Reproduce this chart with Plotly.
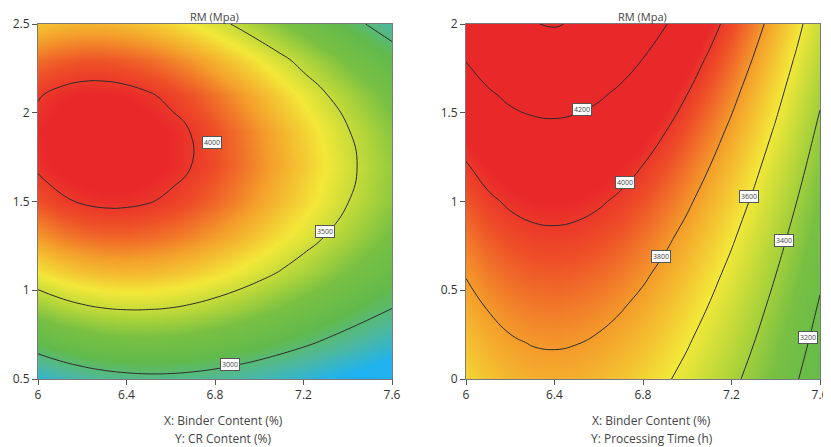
import plotly.graph_objects as go

# ---- data ----
binder = [6.0, 6.1, 6.2, 6.3, 6.4, 6.5, 6.6, 6.7, 6.8, 6.9, 7.0, 7.1, 7.2, 7.3, 7.4, 7.5, 7.6]
cr_content = [0.5, 0.7, 0.9, 1.1, 1.3, 1.5, 1.7, 1.9, 2.1, 2.3, 2.5]
proc_time = [0.0, 0.2, 0.4, 0.6, 0.8, 1.0, 1.2, 1.4, 1.6, 1.8, 2.0]

rm_cr = [
    [2769, 2837, 2889, 2925, 2947, 2957, 2955, 2942, 2921, 2891, 2855, 2813, 2767, 2718, 2667, 2615, 2564],
    [3094, 3157, 3203, 3234, 3250, 3254, 3247, 3229, 3202, 3167, 3125, 3077, 3026, 2971, 2915, 2858, 2801],
    [3377, 3435, 3476, 3501, 3513, 3511, 3499, 3476, 3443, 3403, 3356, 3304, 3247, 3188, 3126, 3064, 3003],
    [3615, 3667, 3703, 3724, 3731, 3725, 3707, 3679, 3642, 3597, 3546, 3489, 3428, 3363, 3297, 3231, 3165],
    [3803, 3851, 3882, 3899, 3901, 3891, 3869, 3836, 3795, 3746, 3690, 3629, 3563, 3495, 3424, 3354, 3283],
    [3938, 3982, 4009, 4022, 4020, 4006, 3980, 3943, 3898, 3845, 3785, 3720, 3651, 3578, 3504, 3430, 3355],
    [4017, 4057, 4081, 4089, 4084, 4066, 4037, 3997, 3948, 3892, 3828, 3760, 3687, 3611, 3533, 3455, 3378],
    [4036, 4073, 4093, 4099, 4090, 4069, 4036, 3993, 3941, 3882, 3815, 3743, 3667, 3588, 3508, 3427, 3346],
    [3992, 4026, 4044, 4046, 4035, 4011, 3975, 3929, 3875, 3812, 3743, 3668, 3590, 3508, 3425, 3341, 3258],
    [3881, 3913, 3928, 3928, 3914, 3887, 3849, 3801, 3744, 3679, 3608, 3531, 3450, 3366, 3280, 3194, 3108],
    [3700, 3729, 3742, 3740, 3724, 3696, 3656, 3606, 3547, 3480, 3406, 3327, 3244, 3158, 3071, 2983, 2895],
]
rm_time = [
    [3656, 3703, 3735, 3753, 3757, 3750, 3731, 3702, 3663, 3616, 3561, 3499, 3431, 3359, 3282, 3203, 3121],
    [3704, 3752, 3786, 3804, 3809, 3802, 3783, 3753, 3714, 3665, 3609, 3545, 3476, 3401, 3321, 3239, 3154],
    [3755, 3805, 3839, 3858, 3864, 3856, 3837, 3807, 3766, 3716, 3658, 3593, 3521, 3444, 3362, 3276, 3187],
    [3809, 3860, 3895, 3915, 3921, 3913, 3893, 3862, 3821, 3769, 3710, 3642, 3568, 3488, 3403, 3314, 3222],
    [3867, 3918, 3954, 3974, 3980, 3972, 3952, 3920, 3877, 3825, 3763, 3694, 3617, 3534, 3446, 3354, 3258],
    [3927, 3980, 4016, 4037, 4042, 4034, 4013, 3980, 3936, 3882, 3819, 3747, 3668, 3582, 3491, 3395, 3296],
    [3991, 4045, 4081, 4102, 4107, 4099, 4077, 4043, 3998, 3942, 3876, 3802, 3720, 3632, 3537, 3438, 3335],
    [4059, 4113, 4150, 4170, 4176, 4167, 4144, 4109, 4062, 4004, 3936, 3860, 3775, 3684, 3586, 3483, 3375],
    [4130, 4184, 4222, 4242, 4247, 4237, 4214, 4177, 4128, 4069, 3999, 3920, 3832, 3737, 3636, 3529, 3418],
    [4205, 4260, 4297, 4318, 4322, 4311, 4286, 4248, 4198, 4136, 4064, 3982, 3892, 3793, 3688, 3578, 3462],
    [4284, 4339, 4376, 4396, 4408, 4389, 4362, 4323, 4271, 4207, 4132, 4047, 3954, 3852, 3743, 3628, 3508],
]

# contour label positions (text boxes on the lines)
lab_cr_x = [6.785, 7.297, 6.868]
lab_cr_y = [1.831, 1.33, 0.583]
lab_cr_t = ["4000", "3500", "3000"]
lab_t_x = [6.523, 6.719, 6.88, 7.28, 7.439, 7.544]
lab_t_y = [1.521, 1.106, 0.689, 1.027, 0.779, 0.233]
lab_t_t = ["4200", "4000", "3800", "3600", "3400", "3200"]

x_ticks = [6, 6.4, 6.8, 7.2, 7.6]
y_ticks_cr = [0.5, 1, 1.5, 2, 2.5]
y_ticks_t = [0, 0.5, 1, 1.5, 2]

# ---- style / layout ----
stops = [(2700, '#1fb2ee'), (2900, '#4db8a0'), (3100, '#62ba4c'), (3300, '#78c043'),
         (3450, '#b2d53a'), (3610, '#f3e839'), (3790, '#f4a02b'), (3940, '#ee4f28'), (4040, '#e9282a')]
zmin, zmax = stops[0][0], stops[-1][0]
cs = [[(v - zmin) / (zmax - zmin), c] for v, c in stops]
FONT = "Open Sans"
W, H = 831, 447
OFF = 8  # page body margin
ML, MR, MT, MB = 24, 6, 10, 50
PW, PH = W - ML - MR, H - MT - MB


def px(xp):
    return (xp - OFF - ML) / PW


def py(yp):
    return (H - MB - (yp - OFF)) / PH


fig = go.Figure()
fig.add_trace(go.Contour(x=binder, y=cr_content, z=rm_cr, colorscale=cs, zmin=zmin, zmax=zmax,
                         showscale=False, hoverinfo='skip',
                         contours=dict(coloring='heatmap', start=3000, end=4000, size=500),
                         line=dict(color='#2b2b2b', width=1, smoothing=1.3), xaxis='x', yaxis='y'))
fig.add_trace(go.Contour(x=binder, y=proc_time, z=rm_time, colorscale=cs, zmin=zmin, zmax=zmax,
                         showscale=False, hoverinfo='skip',
                         contours=dict(coloring='heatmap', start=3200, end=4400, size=200),
                         line=dict(color='#2b2b2b', width=1, smoothing=1.3), xaxis='x2', yaxis='y2'))

ax = dict(showline=True, linecolor='#7a7a7a', linewidth=1, mirror=True, ticks='outside',
          ticklen=5, tickcolor='#555', tickfont=dict(family=FONT, size=12, color='#333'),
          showgrid=False, zeroline=False, automargin=False)
fig.update_layout(
    width=W, height=H, margin=dict(l=ML, r=MR, t=MT, b=MB),
    paper_bgcolor='white', plot_bgcolor='white', showlegend=False,
    xaxis=dict(ax, domain=[px(38), px(392)], range=[6, 7.6], tickvals=x_ticks, anchor='y'),
    yaxis=dict(ax, domain=[py(379), py(24)], range=[0.5, 2.5], tickvals=y_ticks_cr, anchor='x'),
    xaxis2=dict(ax, domain=[px(466), px(820)], range=[6, 7.6], tickvals=x_ticks, anchor='y2'),
    yaxis2=dict(ax, domain=[py(379), py(24)], range=[0, 2], tickvals=y_ticks_t, anchor='x2'),
)

anns = []
for xr, yr, xs, ys, ts in [('x', 'y', lab_cr_x, lab_cr_y, lab_cr_t), ('x2', 'y2', lab_t_x, lab_t_y, lab_t_t)]:
    for a, b, t in zip(xs, ys, ts):
        anns.append(dict(x=a, y=b, xref=xr, yref=yr, text=t, showarrow=False,
                         font=dict(family=FONT, size=7, color='#444'), bgcolor='white',
                         bordercolor='#555', borderwidth=1, borderpad=1))
for cx, cx2, sub in [(214, 223, "Y: CR Content (%)"), (642, 651.5, "Y: Processing Time (h)")]:
    anns.append(dict(x=px(cx), y=py(16), xref='paper', yref='paper', text="RM (Mpa)", showarrow=False,
                     font=dict(family=FONT, size=11, color='#444'), xanchor='center', yanchor='middle'))
    anns.append(dict(x=px(cx2), y=py(420), xref='paper', yref='paper', text="X: Binder Content (%)",
                     showarrow=False, font=dict(family=FONT, size=12, color='#444'),
                     xanchor='center', yanchor='middle'))
    anns.append(dict(x=px(cx2), y=py(438), xref='paper', yref='paper', text=sub,
                     showarrow=False, font=dict(family=FONT, size=12, color='#444'),
                     xanchor='center', yanchor='middle'))
fig.update_layout(annotations=anns)
fig.write_html("out.html")
